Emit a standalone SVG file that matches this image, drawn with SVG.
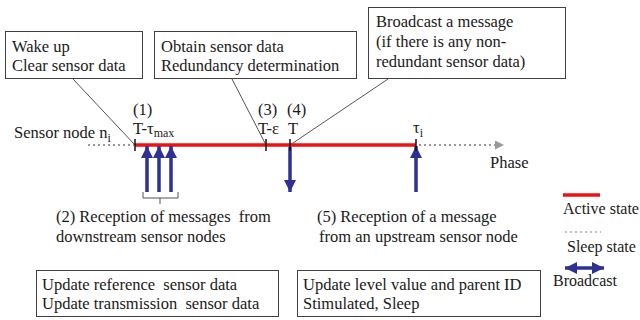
<svg xmlns="http://www.w3.org/2000/svg" width="640" height="320" viewBox="0 0 640 320">
<style>
text{font-family:"Liberation Serif","Times New Roman",serif;font-size:16.5px;fill:#1a1a1a}
.sub{font-size:12px}
.leg{font-size:16px}
.box{fill:#fff;stroke:#404040;stroke-width:1}
.lead{stroke:#555;stroke-width:1;fill:none}
.active{stroke:#f01010;stroke-width:3.5;fill:none}
.sleep{stroke:#999;stroke-width:2;stroke-dasharray:2 3;fill:none}
.tick{stroke:#111;stroke-width:1.5}
.msg{stroke:#2e3192;stroke-width:3.5;fill:none}
.pre{white-space:pre}
</style>
<defs>
<marker id="bh" markerUnits="userSpaceOnUse" markerWidth="12" markerHeight="12" viewBox="0 0 10 10" refX="10" refY="5" orient="auto-start-reverse">
<path d="M0,0 L10,5 L0,10 z" fill="#2e3192"/>
</marker>
<marker id="gh" markerUnits="userSpaceOnUse" markerWidth="9" markerHeight="9" viewBox="0 0 10 10" refX="10" refY="5" orient="auto">
<path d="M0,0 L10,5 L0,10 z" fill="#999"/>
</marker>
</defs>

<g id="connectors">
<line class="lead" x1="73" y1="79" x2="135" y2="145"/>
<line class="lead" x1="232" y1="79" x2="266" y2="145"/>
<line class="lead" x1="388" y1="79" x2="290" y2="145"/>
<line class="sleep" x1="88" y1="145" x2="134" y2="145"/>
<line class="active" x1="135" y1="145" x2="416" y2="145"/>
<line class="sleep" x1="419" y1="145" x2="504" y2="145" marker-end="url(#gh)"/>
<line class="msg" x1="147" y1="192" x2="147" y2="146" marker-end="url(#bh)"/>
<line class="msg" x1="159" y1="192" x2="159" y2="146" marker-end="url(#bh)"/>
<line class="msg" x1="171" y1="192" x2="171" y2="146" marker-end="url(#bh)"/>
<line class="msg" x1="290" y1="147" x2="290" y2="192" marker-end="url(#bh)"/>
<line class="msg" x1="416" y1="192" x2="416" y2="146" marker-end="url(#bh)"/>
<path d="M143,192 V198 H178 V192 M160,198 V204" stroke="#555" stroke-width="1" fill="none"/>
<line class="tick" x1="135" y1="139" x2="135" y2="151"/>
<line class="tick" x1="266" y1="139" x2="266" y2="151"/>
<line class="tick" x1="290" y1="139" x2="290" y2="151"/>
<line class="tick" x1="416" y1="139" x2="416" y2="151"/>
</g>

<g id="wake">
<rect class="box" x="5.5" y="31.5" width="137" height="47"/>
<text x="12" y="52">Wake up</text>
<text x="12" y="71">Clear sensor data</text>
</g>

<g id="obtain">
<rect class="box" x="154.5" y="31.5" width="202" height="47"/>
<text x="161" y="52">Obtain sensor data</text>
<text x="161" y="71">Redundancy determination</text>
</g>

<g id="broadcast-msg">
<rect class="box" x="368.5" y="7.5" width="197" height="71"/>
<text x="376" y="27">Broadcast a message</text>
<text x="376" y="47">(if there is any non-</text>
<text x="376" y="67">redundant sensor data)</text>
</g>

<g id="timeline-labels">
<text x="14" y="138">Sensor node n<tspan class="sub" dy="4">i</tspan></text>
<text x="133" y="115">(1)</text>
<text x="133" y="134">T-τ<tspan class="sub" dy="3">max</tspan></text>
<text x="258" y="115">(3)</text>
<text x="258" y="134">T-ε</text>
<text x="287" y="115">(4)</text>
<text x="288" y="134">T</text>
<text x="413" y="133">τ<tspan class="sub" dy="4">i</tspan></text>
<text x="490" y="168">Phase</text>
</g>

<g id="reception-down">
<text x="56" y="222" class="pre" xml:space="preserve">(2) Reception of messages  from</text>
<text x="56" y="242">downstream sensor nodes</text>
</g>

<g id="reception-up">
<text x="317" y="222">(5) Reception of a message</text>
<text x="319" y="242">from an upstream sensor node</text>
</g>

<g id="update-ref">
<rect class="box" x="36.5" y="270.5" width="242" height="46"/>
<text x="42" y="290" class="pre" xml:space="preserve">Update reference  sensor data</text>
<text x="42" y="309" class="pre" xml:space="preserve">Update transmission  sensor data</text>
</g>

<g id="update-level">
<rect class="box" x="297.5" y="270.5" width="243" height="46"/>
<text x="303" y="290">Update level value and parent ID</text>
<text x="303" y="309">Stimulated, Sleep</text>
</g>

<g id="legend">
<line class="active" x1="563" y1="195" x2="600" y2="195"/>
<text class="leg" x="563" y="214">Active state</text>
<line class="sleep" x1="565" y1="232" x2="601" y2="232" style="stroke-width:1.5;stroke:#aaa"/>
<text class="leg" x="567" y="252">Sleep state</text>
<line class="msg" x1="565" y1="268" x2="604" y2="268" marker-start="url(#bh)" marker-end="url(#bh)"/>
<text class="leg" x="553" y="286">Broadcast</text>
</g>
</svg>
